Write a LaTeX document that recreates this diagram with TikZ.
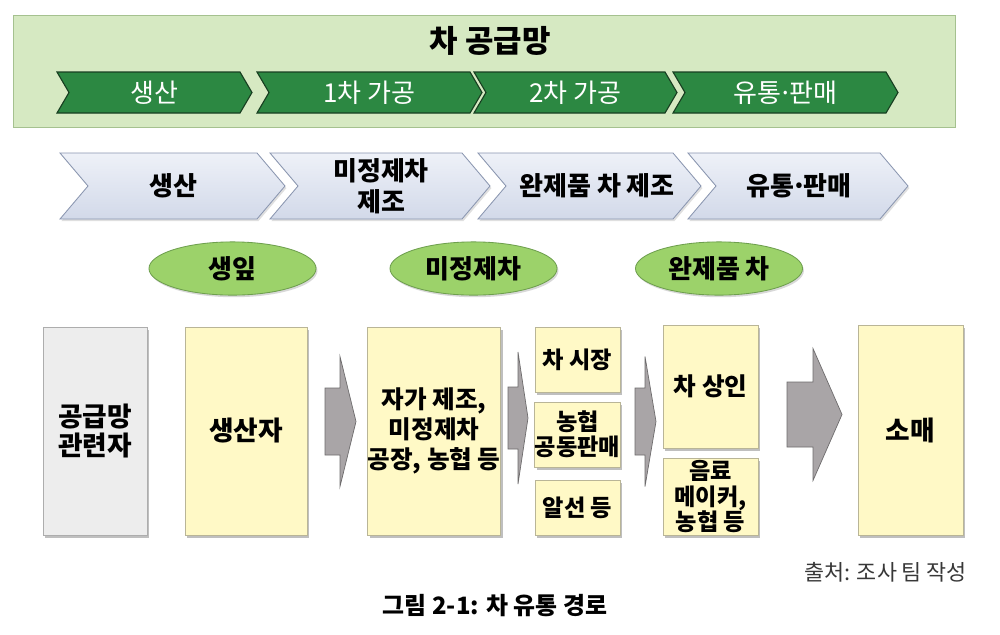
\documentclass[tikz,border=0pt]{standalone}
\usepackage{fontspec}
\setmainfont{Noto Sans CJK KR}
\usetikzlibrary{shapes.geometric,shadows}

\definecolor{panelbg}{HTML}{D6E9C2}
\definecolor{panelline}{HTML}{A5C18F}
\definecolor{chevgreen}{HTML}{2C8842}
\definecolor{chevdark}{HTML}{183F21}
\definecolor{chevtop}{HTML}{EEF1F8}
\definecolor{chevbot}{HTML}{D2D9E9}
\definecolor{chevline}{HTML}{8A96B0}
\definecolor{leafgreen}{HTML}{9CD26A}
\definecolor{leafline}{HTML}{6E9F4E}
\definecolor{boxyellow}{HTML}{FFF9C6}
\definecolor{boxline}{HTML}{B9B597}
\definecolor{boxgray}{HTML}{EDEDED}
\definecolor{grayline}{HTML}{ADADAD}
\definecolor{arrowgray}{HTML}{A9A5A7}
\definecolor{arrowline}{HTML}{6E6C6D}
\newcommand\middot{\kern-0.12em·\kern-0.12em}

\begin{document}
\begin{tikzpicture}[x=0.025cm,y=-0.025cm,
panel/.style={fill=panelbg,draw=panelline,line width=0.6pt},
gchev/.style={fill=chevgreen,draw=chevdark,line width=0.8pt},
gtxt/.style={text=white,font=\fontsize{18.5}{20}\selectfont},
bchev/.style={top color=chevtop,bottom color=chevbot,draw=chevline,line width=0.6pt,drop shadow={shadow xshift=1pt,shadow yshift=-1.5pt,opacity=.25}},
btxt/.style={align=center,font=\fontsize{18.5}{22}\selectfont\bfseries},
leaf/.style={ellipse,fill=leafgreen,draw=leafline,line width=0.6pt,minimum width=4.175cm,minimum height=1.33cm,inner sep=0pt,font=\fontsize{18.5}{22}\selectfont\bfseries,drop shadow={shadow xshift=1pt,shadow yshift=-1.5pt,opacity=.3}},
box/.style={draw=boxline,fill=boxyellow,line width=0.6pt,align=center,inner sep=0pt,font=\fontsize{17.5}{21.3}\selectfont\bfseries,drop shadow={shadow xshift=1.5pt,shadow yshift=-1.8pt,opacity=.5}},
bigbox/.style={box,font=\fontsize{19}{21.3}\selectfont\bfseries},
small/.style={box,font=\fontsize{16.5}{18}\selectfont\bfseries},
fat/.style={fill=arrowgray,draw=arrowline,line width=0.5pt}]
\fill[white] (0,0) rectangle (1000,634);
\useasboundingbox (0,0) rectangle (1000,634);

% supply chain panel
\draw[panel] (13,15) rectangle (955,127);
\node[font=\fontsize{22}{26}\selectfont\bfseries] (title) at (490,41) {차 공급망};
\foreach \l/\r/\t [count=\i] in {57/240/생산,257/470/1차 가공,474/665/2차 가공,673/886/유통\middot 판매}{
  \draw[gchev] (\l,72) -- (\r,72) -- (\r+12,92.5) -- (\r,113) -- (\l,113) -- (\l+12,92.5) -- cycle;
  \node[gtxt] (g\i) at ({(\l+\r)/2+6},92.5) {\t};
}

% process stages
\foreach \l/\r/\cx/\t [count=\i] in {60/257/173/생산,270/462/381/{미정제차\\제조},478/673/597/완제품 차 제조,688/880/799/유통\middot 판매}{
  \draw[bchev] (\l,153) -- (\r,153) -- (\r+28,186) -- (\r,219) -- (\l,219) -- (\l+28,186) -- cycle;
  \node[btxt] (s\i) at (\cx,186) {\t};
}

% products
\node[leaf] (leaf) at (232.5,268.5) {생잎};
\node[leaf] (crude) at (473.5,268.5) {미정제차};
\node[leaf] (final) at (719,268.5) {완제품 차};

% actors
\node[bigbox,fill=boxgray,draw=grayline,minimum width=2.6cm,minimum height=5.2cm] (rel) at (95,431) {공급망\\관련자};
\node[bigbox,minimum width=3.05cm,minimum height=5.2cm] (prod) at (246,431) {생산자};
\node[box,minimum width=3.3cm,minimum height=5.2cm] (mfg) at (434,431) {자가 제조,\\미정제차\\공장, 농협 등};
\node[small,minimum width=2.125cm,minimum height=1.625cm] (market) at (577.5,359.5) {차 시장};
\node[small,minimum width=2.125cm,minimum height=1.625cm] (coop) at (577.5,434.5) {농협\\공동판매};
\node[small,minimum width=2.125cm,minimum height=1.375cm] (broker) at (577.5,507.5) {알선 등};
\node[box,minimum width=2.375cm,minimum height=3.075cm] (trader) at (710.5,386.5) {차 상인};
\node[small,minimum width=2.375cm,minimum height=1.925cm] (maker) at (710.5,496.5) {음료\\메이커,\\농협 등};
\node[bigbox,minimum width=2.625cm,minimum height=5.25cm] (retail) at (910.5,430) {소매};

% flow arrows
\foreach \a/\b/\c/\m/\s/\h in {325/340/356/421.5/33.5/65,508/518/528/418/31/66,635/645/656/421.5/33.5/65,787/813/842/414.5/32.5/66}{
  \draw[fat] (\a,\m-\s) -- (\b,\m-\s) -- (\b,\m-\h) -- (\c,\m) -- (\b,\m+\h) -- (\b,\m+\s) -- (\a,\m+\s) -- cycle;
}

\node[anchor=east,text=black!78,font=\fontsize{15.5}{18}\selectfont] (src) at (972,572) {출처: 조사 팀 작성};
\node[font=\fontsize{17}{20}\selectfont\bfseries] (cap) at (495,606) {그림 2-1: 차 유통 경로};
\end{tikzpicture}
\end{document}
